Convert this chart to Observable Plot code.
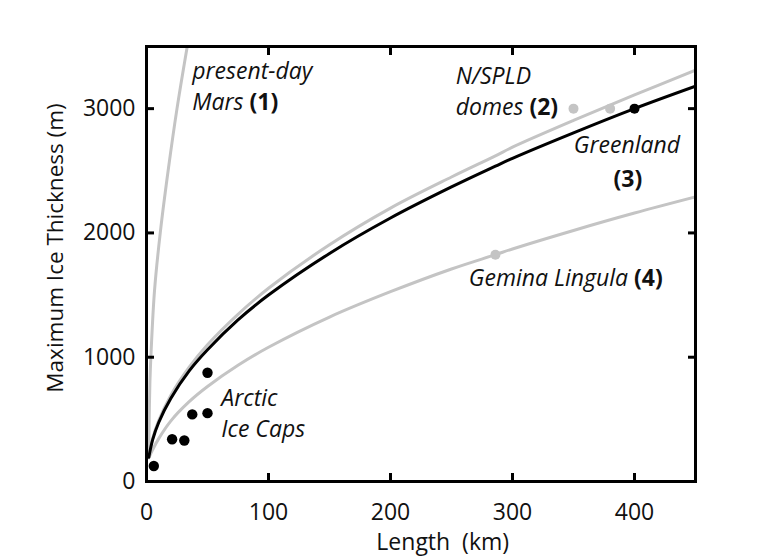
<!DOCTYPE html>
<html><head><meta charset="utf-8">
<script src="https://cdn.jsdelivr.net/npm/d3@7"></script>
<script src="https://cdn.jsdelivr.net/npm/@observablehq/plot@0.6"></script>
<style>body{margin:0;background:#fff}</style>
</head><body><div id="chart"></div>
<script>
// tick labels
const xTicks = [0, 100, 200, 300, 400];
const yTicks = [0, 1000, 2000, 3000];

// fitted profiles
const marsX = [1.9, 2.2, 2.8, 3.8, 6.6, 11.5, 18, 25, 33.4];
const marsY = [195, 500, 800, 1050, 1540, 2020, 2520, 3000, 3500];

const curveX = [1.9, 5, 10, 20, 35, 50, 75, 100, 150, 200, 250, 286, 300, 350, 400, 450];
const greenlandY = [195, 335, 475, 670, 890, 1060, 1300, 1500, 1835, 2120, 2370, 2537, 2600, 2805, 3000, 3180];
const spldY = [195, 345, 490, 695, 920, 1100, 1345, 1555, 1905, 2200, 2450, 2620, 2690, 2905, 3110, 3310];
const geminaY = [190, 255, 345, 488, 642, 764, 935, 1080, 1323, 1527, 1710, 1825, 1871, 2020, 2160, 2290];

// observations
const arcticX = [6, 21, 31, 37.5, 50, 50];
const arcticY = [125, 340, 330, 540, 550, 875];
const spldDotX = [350, 380];
const spldDotY = [3000, 3000];
const greenlandDotX = [400];
const greenlandDotY = [3000];
const geminaDotX = [286];
const geminaDotY = [1825];

// annotations
const labelText = ["present-day", "Mars (1)", "N/SPLD", "domes (2)", "Greenland", "Gemina Lingula (4)", "Arctic", "Ice Caps"];
const labelX = [37.5, 37.5, 253.5, 253.5, 350.3, 264.2, 61.3, 61.3];
const labelY = [3236, 2986, 3201, 2946, 2640, 1577, 605, 361];
const boldText = ["(3)"];
const boldX = [394.6];
const boldY = [2369];

// axis titles
const xTitle = "Length\u00a0 (km)";
const yTitle = "Maximum Ice Thickness (m)";

const zip = (xs, ys) => xs.map((x, i) => ({x, y: ys[i]}));
const gray = "#c4c4c4";

const marsData = zip(marsX, marsY);
const greenland = zip(curveX, greenlandY);
const spld = zip(curveX, spldY);
const gemina = zip(curveX, geminaY);
const labels = labelText.map((t, i) => ({t, x: labelX[i], y: labelY[i]}));
const bolds = boldText.map((t, i) => ({t, x: boldX[i], y: boldY[i]}));

const chart = Plot.plot({
  width: 760, height: 557,
  marginLeft: 146, marginRight: 65, marginTop: 46, marginBottom: 76,
  style: {fontFamily: "Open Sans", fontSize: "22px", background: "white", color: "black"},
  x: {domain: [0, 450], axis: null},
  y: {domain: [0, 3500], axis: null},
  marks: [
    Plot.line(marsData, {x: "x", y: "y", stroke: gray, strokeWidth: 3, curve: "catmull-rom", clip: "frame"}),
    Plot.line(gemina, {x: "x", y: "y", stroke: gray, strokeWidth: 3, curve: "catmull-rom", clip: "frame"}),
    Plot.line(spld, {x: "x", y: "y", stroke: gray, strokeWidth: 3, curve: "catmull-rom", clip: "frame"}),
    Plot.line(greenland, {x: "x", y: "y", stroke: "black", strokeWidth: 3, curve: "catmull-rom", clip: "frame"}),
    Plot.dot(zip(spldDotX, spldDotY), {x: "x", y: "y", r: 5, fill: gray}),
    Plot.dot(zip(geminaDotX, geminaDotY), {x: "x", y: "y", r: 5, fill: gray}),
    Plot.dot(zip(greenlandDotX, greenlandDotY), {x: "x", y: "y", r: 5, fill: "black"}),
    Plot.dot(zip(arcticX, arcticY), {x: "x", y: "y", r: 5.2, fill: "black"}),
    Plot.text(labels, {x: "x", y: "y", text: "t", textAnchor: "start", lineAnchor: "bottom", fontStyle: "italic", fontSize: 23, fill: "#111"}),
    Plot.text(bolds, {x: "x", y: "y", text: "t", textAnchor: "middle", lineAnchor: "bottom", fontWeight: "bold", fontSize: 23, fill: "#111"}),
    // inward ticks on all four sides
    Plot.axisX(xTicks.slice(1), {anchor: "bottom", tickSize: -8, strokeWidth: 3, fill: "none", tickFormat: () => "", label: null}),
    Plot.axisX(xTicks.slice(1), {anchor: "top", tickSize: -8, strokeWidth: 3, fill: "none", tickFormat: () => "", label: null}),
    Plot.axisY(yTicks.slice(1), {anchor: "left", tickSize: -8, strokeWidth: 3, fill: "none", tickFormat: () => "", label: null}),
    Plot.axisY(yTicks.slice(1), {anchor: "right", tickSize: -8, strokeWidth: 3, fill: "none", tickFormat: () => "", label: null}),
    // tick labels
    Plot.axisX(xTicks, {anchor: "bottom", tickSize: 0, tickPadding: 22, label: null, fontSize: 23, fill: "#111", tickFormat: d3.format("d")}),
    Plot.axisY(yTicks, {anchor: "left", tickSize: 0, tickPadding: 11, label: null, fontSize: 23, fill: "#111", tickFormat: d3.format("d")}),
    // axis titles (placed in data units outside the frame)
    Plot.text([xTitle], {x: [242.8], y: [-492], text: d => d, fontSize: 23, fill: "#111"}),
    Plot.text([yTitle], {x: [-74.6], y: [1879], text: d => d, rotate: -90, fontSize: 22.5, fill: "#111"}),
    Plot.frame({stroke: "black", strokeWidth: 3})
  ]
});

// bold "(n)" suffix inside italic labels
chart.querySelectorAll("text").forEach(el => {
  if (el.children.length) return;
  const m = el.textContent.match(/^(.+ )(\(\d\))$/);
  if (!m) return;
  el.textContent = "";
  const a = document.createElementNS("http://www.w3.org/2000/svg", "tspan");
  a.textContent = m[1];
  const b = document.createElementNS("http://www.w3.org/2000/svg", "tspan");
  b.textContent = m[2];
  b.setAttribute("font-weight", "bold");
  b.setAttribute("font-style", "normal");
  el.appendChild(a); el.appendChild(b);
});

document.getElementById("chart").appendChild(chart);
</script>
</body></html>
